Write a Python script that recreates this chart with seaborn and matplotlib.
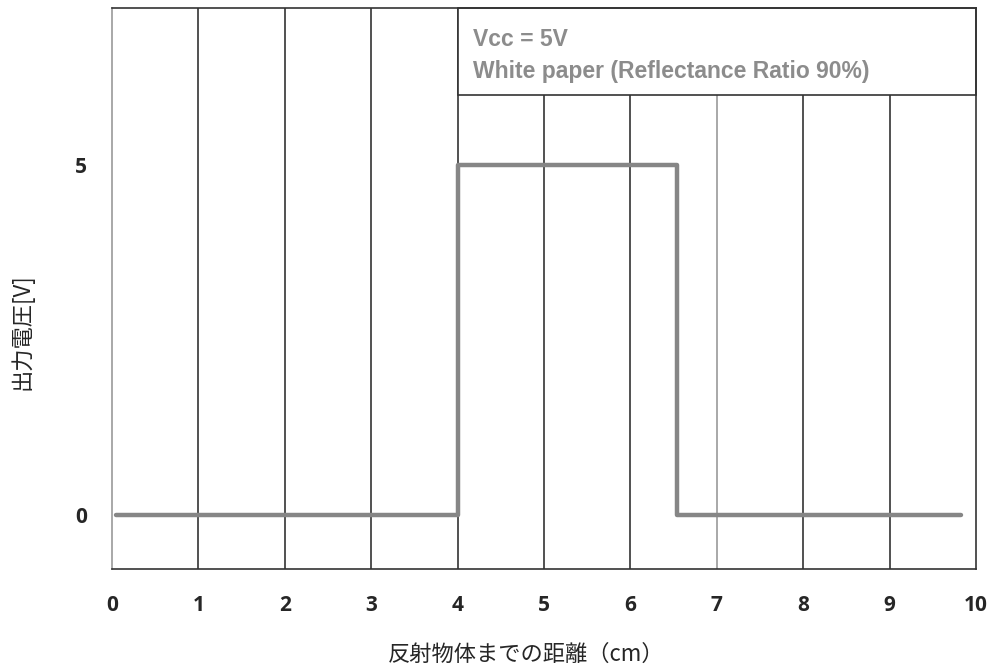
import matplotlib
matplotlib.use("Agg")
import matplotlib.pyplot as plt
import seaborn as sns
import pandas as pd
from matplotlib.patches import Rectangle

# data
distance_cm = [0.05, 4.0, 4.0, 6.54, 6.54, 9.83]
voltage_v = [0, 0, 5, 5, 0, 0]
x_ticks = [0, 1, 2, 3, 4, 5, 6, 7, 8, 9, 10]
y_ticks = [0, 5]
note_lines = ["Vcc = 5V", "White paper (Reflectance Ratio 90%)"]

df = pd.DataFrame({"distance": distance_cm, "voltage": voltage_v})

sns.set_style("white")
plt.rcParams['font.family'] = ['Noto Sans CJK JP', 'DejaVu Sans']

fig = plt.figure(figsize=(9.9, 6.67), dpi=100)
ax = fig.add_axes([112 / 990, 1 - 569 / 667, 864 / 990, 561 / 667])

x_min, x_max = 0, 10
y_min, y_max = -0.771, 7.243
ax.set_xlim(x_min, x_max)
ax.set_ylim(y_min, y_max)

# vertical grid lines
for t in x_ticks[1:-1]:
    col = "#999999" if t == 7 else "#333333"
    ax.axvline(t, color=col, lw=1.2, zorder=1)

# note box in the upper right
ax.add_patch(Rectangle((4, 6), x_max - 4, y_max - 6, facecolor="white",
                       edgecolor="#333333", lw=1.2, zorder=2, clip_on=False))
ax.text(4.18, 6.8, note_lines[0], color="#8c8c8c", fontsize=16.5,
        fontweight="bold", family="Liberation Sans", va="center", zorder=4)
ax.text(4.18, 6.34, note_lines[1], color="#8c8c8c", fontsize=16.5,
        fontweight="bold", family="Liberation Sans", va="center", zorder=4)

sns.lineplot(data=df, x="distance", y="voltage", sort=False, estimator=None,
             color="#868686", lw=3.2, ax=ax, zorder=3)

for side in ["top", "right", "bottom"]:
    ax.spines[side].set_color("#333333")
    ax.spines[side].set_linewidth(1.2)
ax.spines["left"].set_color("#999999")
ax.spines["left"].set_linewidth(1.2)

ax.set_xticks(x_ticks)
ax.set_yticks(y_ticks)
ax.tick_params(length=0)
ax.tick_params(axis="x", pad=19)
ax.tick_params(axis="y", pad=18)
for lab in ax.get_xticklabels() + ax.get_yticklabels():
    lab.set_fontweight("bold")
    lab.set_fontsize(15)
    lab.set_family("Open Sans")

ax.set_xlabel("反射物体までの距離（cm）", fontsize=16, labelpad=19, x=0.479)
ax.set_ylabel("出力電圧[V]", fontsize=16, labelpad=30, y=0.424)

plt.savefig("out.png", dpi=100)
plt.close()
